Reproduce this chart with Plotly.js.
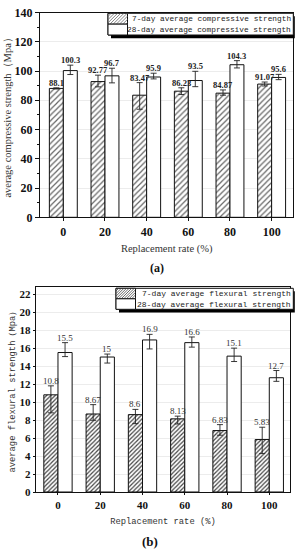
<!DOCTYPE html>
<html>
<head>
<meta charset="utf-8">
<script src="https://cdn.plot.ly/plotly-3.0.1.min.js"></script>
<style>html,body{margin:0;padding:0;background:#fff;}#chart{width:299px;height:550px;}</style>
</head>
<body>
<div id="chart"></div>
<script>
// ---------- data ----------
const categories = ['0', '20', '40', '60', '80', '100'];

const comp7 = [88.1, 92.77, 83.47, 86.23, 84.87, 91.07];
const comp7Plus = [0.4, 4.4, 8.6, 2.3, 2.2, 1.4];
const comp7Minus = [0.4, 3.6, 9.6, 2.3, 1.4, 1.3];
const comp28 = [100.3, 96.7, 95.9, 93.5, 104.3, 95.6];
const comp28Plus = [3.7, 5.2, 2.6, 6.3, 2.8, 2.1];
const comp28Minus = [2.7, 4.8, 1.3, 4.2, 2.2, 1.5];

const flex7 = [10.8, 8.67, 8.6, 8.13, 6.83, 5.83];
const flex7Plus = [1.0, 1.04, 0.58, 0.3, 0.66, 1.37];
const flex7Minus = [2.0, 0.7, 1.0, 0.57, 0.52, 1.56];
const flex28 = [15.5, 15, 16.9, 16.6, 15.1, 12.7];
const flex28Plus = [1.1, 0.33, 0.62, 0.63, 0.89, 0.8];
const flex28Minus = [0.45, 0.67, 1.0, 0.5, 0.6, 0.4];

const legendComp = ['7-day average compressive strength', '28-day average compressive strength'];
const legendFlex = ['7-day average flexural strength', '28-day average flexural strength'];

// ---------- helpers ----------
const W = 299, H = 550;
const px = x => x / W;
const py = y => 1 - y / H;
const SERIF = 'Liberation Serif, Times New Roman, serif';
const MONO = 'Liberation Mono, DejaVu Sans Mono, monospace';
const BARGAP = 0.33;
const HALF = (1 - BARGAP) / 4;   // offset of each bar centre from the category centre

function err(plus, minus) {
  return {type: 'data', symmetric: false, array: plus, arrayminus: minus,
          color: '#222', thickness: 0.9, width: 3};
}

function barTrace(vals, plus, minus, hatch, xa, ya, patt) {
  const t = {
    type: 'bar', x: categories, y: vals, xaxis: xa, yaxis: ya,
    marker: {color: '#ffffff', line: {color: '#111', width: 1}},
    error_y: err(plus, minus), showlegend: false, hoverinfo: 'skip'
  };
  if (hatch) {
    t.marker.pattern = {shape: '/', bgcolor: '#ffffff', fgcolor: patt.fg, size: patt.size, solidity: patt.sol, fillmode: 'replace'};
  }
  return t;
}

const traces = [
  barTrace(comp7, comp7Plus, comp7Minus, true, 'x', 'y', {fg: '#666', size: 4, sol: 0.3}),
  barTrace(comp28, comp28Plus, comp28Minus, false, 'x', 'y'),
  barTrace(flex7, flex7Plus, flex7Minus, true, 'x2', 'y2', {fg: '#444', size: 3, sol: 0.4}),
  barTrace(flex28, flex28Plus, flex28Minus, false, 'x2', 'y2')
];

// value labels, placed at the top of each error bar
function valueLabels(vals, plus, side, xref, yref, font) {
  return vals.map((v, i) => ({
    xref: xref, yref: yref, x: i + side * HALF, y: v + plus[i],
    xanchor: 'center', yanchor: 'bottom', yshift: -2, showarrow: false,
    text: String(v), font: font
  }));
}
const fontA = {family: SERIF, size: 8.5, color: '#222', weight: 'bold'};
const fontB = {family: SERIF, size: 9, color: '#333'};
const labelAnns = [].concat(
  valueLabels(comp7, comp7Plus, -1, 'x', 'y', fontA),
  valueLabels(comp28, comp28Plus, 1, 'x', 'y', fontA),
  valueLabels(flex7, flex7Plus, -1, 'x2', 'y2', fontB),
  valueLabels(flex28, flex28Plus, 1, 'x2', 'y2', fontB)
);

// ---------- legend drawing (manual, to match the compact boxed legend) ----------
function hatchPath(x0, y0, x1, y1, s) {
  const w = x1 - x0, h = y1 - y0;
  let d = '';
  for (let c = -w + s / 2; c < h; c += s) {
    const ua = Math.max(0, -c), ub = Math.min(w, h - c);
    if (ub <= ua) continue;
    const xa = x0 + ua, ya = y1 - (ua + c);
    const xb = x0 + ub, yb = y1 - (ub + c);
    d += 'M' + px(xa).toFixed(5) + ',' + py(ya).toFixed(5) + 'L' + px(xb).toFixed(5) + ',' + py(yb).toFixed(5);
  }
  return d;
}

function rect(x0, y0, x1, y1, fill, lineColor, lw) {
  return {type: 'rect', xref: 'paper', yref: 'paper', x0: px(x0), x1: px(x1), y0: py(y1), y1: py(y0),
          fillcolor: fill, line: {color: lineColor, width: lw}, layer: 'above'};
}

function legendBlock(box, sw, labels, fontSize, hatchColor, hatchStep) {
  const [bx0, by0, bx1, by1] = box;
  const mid = (by0 + by1) / 2;
  const shapes = [
    rect(bx0 + 3, by0 + 3, bx1 + 1.5, by1 + 3.2, '#000', '#000', 0),
    rect(bx0, by0, bx1, by1, '#fff', '#111', 1),
    rect(bx0, by0, bx0 + sw, mid, '#fff', '#111', 1),
    {type: 'path', xref: 'paper', yref: 'paper', path: hatchPath(bx0, by0, bx0 + sw, mid, hatchStep),
     line: {color: hatchColor, width: 0.8}, layer: 'above'},
    rect(bx0, mid, bx0 + sw, by1, '#fff', '#111', 1)
  ];
  const anns = labels.map((t, i) => ({
    xref: 'paper', yref: 'paper', x: px(bx1 - 0.5), y: py(i === 0 ? (by0 + mid) / 2 : (mid + by1) / 2),
    xanchor: 'right', yanchor: 'middle', showarrow: false, text: t,
    font: {family: MONO, size: fontSize, color: '#222'}
  }));
  return {shapes, anns};
}

const lg1 = legendBlock([108, 13.3, 293.3, 35], 19.5, legendComp, 7.8, '#666', 3.2);
const lg2 = legendBlock([116, 288.3, 293.3, 309.3], 19.5, legendFlex, 8, '#444', 2.6);

const axisLine = {showline: true, linecolor: '#111', linewidth: 1, mirror: true};

const layout = {
  width: W, height: H,
  margin: {l: 0, r: 0, t: 0, b: 0},
  paper_bgcolor: '#fff', plot_bgcolor: '#fff',
  barmode: 'group', bargap: BARGAP, bargroupgap: 0,
  showlegend: false,
  xaxis: Object.assign({}, axisLine, {
    domain: [px(40), px(293.3)], anchor: 'y', type: 'category', range: [-0.56, 5.52],
    ticks: 'outside', ticklen: 3, tickcolor: '#111', showgrid: false, automargin: false,
    tickfont: {family: SERIF, size: 12, color: '#111', weight: 'bold'},
    title: {text: 'Replacement rate (%)', font: {family: SERIF, size: 10.5, color: '#333'}, standoff: 6}
  }),
  yaxis: Object.assign({}, axisLine, {
    domain: [py(217.3), py(12.5)], anchor: 'x', range: [0, 140], dtick: 20,
    ticks: 'outside', ticklen: 4, tickcolor: '#111', automargin: false,
    minor: {ticks: 'outside', ticklen: 2, dtick: 10, tickcolor: '#111', showgrid: false},
    showgrid: true, gridcolor: '#ececec', gridwidth: 1, zeroline: false,
    tickfont: {family: SERIF, size: 12, color: '#111', weight: 'bold'},
    title: {text: 'average compressive strength（Mpa）', font: {family: SERIF, size: 10.5, color: '#333'}, standoff: 0}
  }),
  xaxis2: Object.assign({}, axisLine, {
    domain: [px(36), px(290)], anchor: 'y2', type: 'category', range: [-0.52, 5.49],
    ticks: 'outside', ticklen: 2, tickcolor: '#111', showgrid: false, automargin: false,
    linewidth: 1.3,
    tickfont: {family: SERIF, size: 11, color: '#111', weight: 'bold'},
    title: {text: 'Replacement rate (%)', font: {family: MONO, size: 8.8, color: '#333'}, standoff: 8}
  }),
  yaxis2: Object.assign({}, axisLine, {
    domain: [py(492), py(287.3)], anchor: 'x2', range: [0, 22.75], dtick: 2,
    ticks: 'outside', ticklen: 2, tickcolor: '#111', automargin: false,
    linewidth: 1.3,
    showgrid: true, gridcolor: '#ececec', gridwidth: 1, zeroline: false,
    tickfont: {family: SERIF, size: 11, color: '#111', weight: 'bold'},
    title: {text: 'average flexural strength（Mpa）', font: {family: MONO, size: 8.8, color: '#333'}, standoff: 2}
  }),
  shapes: lg1.shapes.concat(lg2.shapes),
  annotations: labelAnns.concat(lg1.anns, lg2.anns, [
    {xref: 'paper', yref: 'paper', x: px(157), y: py(268), xanchor: 'center', yanchor: 'middle', showarrow: false,
     text: '(a)', font: {family: SERIF, size: 12, color: '#111', weight: 'bold'}},
    {xref: 'paper', yref: 'paper', x: px(150), y: py(541), xanchor: 'center', yanchor: 'middle', showarrow: false,
     text: '(b)', font: {family: SERIF, size: 13, color: '#111', weight: 'bold'}}
  ])
};

Plotly.newPlot('chart', traces, layout, {staticPlot: true, displayModeBar: false});
</script>
</body>
</html>
